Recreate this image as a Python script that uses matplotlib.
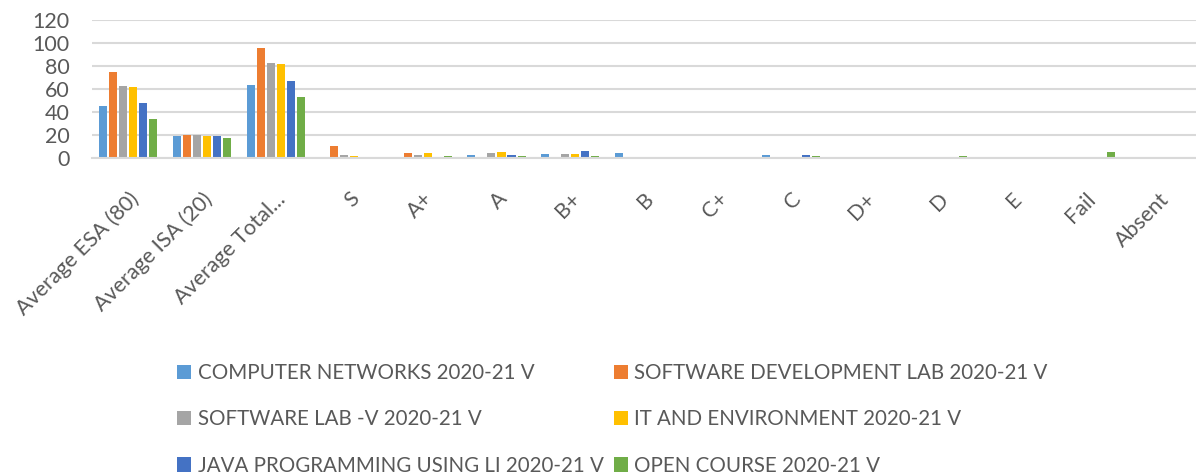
import numpy as np
import matplotlib as mpl
mpl.use("Agg")
import matplotlib.pyplot as plt
from matplotlib.patches import Patch

categories = ["Average ESA (80)", "Average ISA (20)", "Average Total...", "S", "A+", "A",
              "B+", "B", "C+", "C", "D+", "D", "E", "Fail", "Absent"]

computer_networks = [45, 19, 64, 0, 0.5, 3, 4, 4.5, 0, 3, 0, 0, 0, 0.5, 0]
software_dev_lab  = [75, 20, 96, 11, 4.5, 0, 0, 0, 0, 0, 0, 0, 0, 0, 0]
software_lab_v    = [63, 20, 83, 3, 3, 4.5, 4, 0.5, 0, 0, 0, 0, 0, 0, 0]
it_environment    = [62, 19, 82, 2, 4.5, 5.5, 4, 0, 0, 0, 0, 0, 0, 0, 0]
java_programming  = [48, 19, 67, 0, 1, 3, 6.5, 1.5, 0, 3, 0, 0.5, 0, 0, 0]
open_course       = [34, 18, 53, 0, 2, 2, 2, 0.5, 0, 2, 0, 2, 0, 5.5, 0]

series_names = ["COMPUTER NETWORKS 2020-21 V", "SOFTWARE DEVELOPMENT LAB 2020-21 V",
                "SOFTWARE LAB -V 2020-21 V", "IT AND ENVIRONMENT 2020-21 V",
                "JAVA PROGRAMMING USING LI 2020-21 V", "OPEN COURSE 2020-21 V"]
series_vals = [computer_networks, software_dev_lab, software_lab_v,
               it_environment, java_programming, open_course]
colors = ["#5B9BD5", "#ED7D31", "#A5A5A5", "#FFC000", "#4472C4", "#70AD47"]

text_col = "#595959"
grid_col = "#D9D9D9"
mpl.rcParams['font.family'] = ['Lato', 'DejaVu Sans']

fig = plt.figure(figsize=(11.96, 4.75), dpi=100)
ax = fig.add_axes([91.5/1196, (475-158.3)/475, 1 - 91.5/1196, 138.3/475])

x = np.arange(len(categories))
step = 0.136
width = 0.109
for i, (vals, col) in enumerate(zip(series_vals, colors)):
  ax.bar(x + (i - 2.5)*step, vals, width=width, color=col, zorder=3)

ax.set_xlim(-0.5, len(categories) - 0.5)
ax.set_ylim(0, 120)
ax.set_yticks(range(0, 121, 20))
ax.yaxis.grid(True, color=grid_col, linewidth=1.5, zorder=0)
ax.set_axisbelow(True)
for s in ["top", "right", "left"]:
  ax.spines[s].set_visible(False)
ax.spines["bottom"].set_color(grid_col)
ax.spines["bottom"].set_linewidth(1.5)
ax.spines["bottom"].set_zorder(4)

ax.set_xticks(x)
ax.set_xticklabels(categories, rotation=45, ha="right", va="top", rotation_mode="anchor")
ax.tick_params(axis="both", length=0, labelsize=15, labelcolor=text_col)
ax.tick_params(axis="x", labelsize=15.5, pad=22)
ax.tick_params(axis="y", labelsize=15.5, pad=16)

# legend, column-first order gives two columns of three
order = [0, 2, 4, 1, 3, 5]
handles = [Patch(facecolor=colors[k], edgecolor="none") for k in order]
labels = [series_names[k] for k in order]
fig.legend(handles, labels, ncol=2, loc="upper left",
           bbox_to_anchor=(177/1196, 1 - 363/475), frameon=False,
           fontsize=14.8, labelcolor=text_col, handlelength=0.7, handleheight=0.7,
           handletextpad=0.3, columnspacing=0.5, labelspacing=1.28,
           borderpad=0, borderaxespad=0)

fig.savefig("out.png", dpi=100)
